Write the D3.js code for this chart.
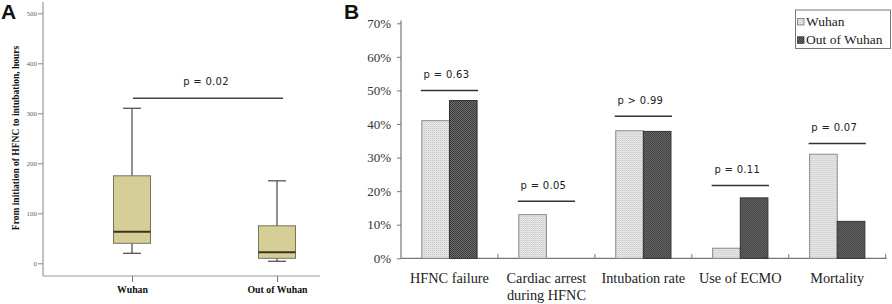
<!DOCTYPE html>
<html>
<head>
<meta charset="utf-8">
<script src="https://cdn.jsdelivr.net/npm/d3@7"></script>
<style>
  html, body { margin: 0; padding: 0; background: #fff; }
  svg { display: block; }
</style>
</head>
<body>
<svg id="chart" width="892" height="304"></svg>
<script>
"use strict";

// ---- panel A data (box plot, hours) ----
const groupsA = ["Wuhan", "Out of Wuhan"];
const whiskerLow = [20, 4];
const q1 = [40, 10];
const medians = [63, 22];
const q3 = [175, 75];
const whiskerHigh = [310, 165];
const ticksA = [0, 100, 200, 300, 400, 500];
const pLabelA = "p = 0.02";
const pLineA = 330;

// ---- panel B data (percent) ----
const categoriesB = ["HFNC failure", "Cardiac arrest|during HFNC", "Intubation rate", "Use of ECMO", "Mortality"];
const seriesB = ["Wuhan", "Out of Wuhan"];
const wuhanPct = [0.41, 0.13, 0.38, 0.03, 0.31];
const outPct = [0.47, 0, 0.378, 0.18, 0.11];
const ticksB = [0, 0.1, 0.2, 0.3, 0.4, 0.5, 0.6, 0.7];
const pLabelsB = ["p = 0.63", "p = 0.05", "p > 0.99", "p = 0.11", "p = 0.07"];
const pLinesB = [0.50, 0.17, 0.423, 0.217, 0.342];

const svg = d3.select("#chart");

// 패턴 정의 (점무늬 / 체크무늬)
const defs = svg.append("defs");
const light = defs.append("pattern").attr("id", "patLight")
  .attr("patternUnits", "userSpaceOnUse").attr("width", 2).attr("height", 2);
light.append("rect").attr("width", 2).attr("height", 2).attr("fill", "#f2f2f2");
light.append("rect").attr("width", 1).attr("height", 1).attr("fill", "#bdbdbd");
light.append("rect").attr("x", 1).attr("y", 1).attr("width", 1).attr("height", 1).attr("fill", "#d4d4d4");

const dark = defs.append("pattern").attr("id", "patDark")
  .attr("patternUnits", "userSpaceOnUse").attr("width", 2).attr("height", 2);
dark.append("rect").attr("width", 2).attr("height", 2).attr("fill", "#7a7a7a");
dark.append("rect").attr("width", 1).attr("height", 1).attr("fill", "#2e2e2e");
dark.append("rect").attr("x", 1).attr("y", 1).attr("width", 1).attr("height", 1).attr("fill", "#2e2e2e");

const serif = "'Liberation Serif', 'Times New Roman', serif";
const pFont = "'DejaVu Sans', Verdana, sans-serif";

// ================= Panel A =================
const yA = d3.scaleLinear().domain([0, 500]).range([263.3, 13.3]);
const xA = d3.scalePoint().domain(groupsA).range([132, 277]);
const boxW = 37;
const capW = 18;

const gA = svg.append("g");

// 축선
gA.append("line").attr("x1", 43).attr("x2", 43).attr("y1", 2).attr("y2", 276)
  .attr("stroke", "#999").attr("stroke-width", 1.2);
gA.append("line").attr("x1", 43).attr("x2", 320).attr("y1", 276).attr("y2", 276)
  .attr("stroke", "#999").attr("stroke-width", 1.2);

const yAxisA = d3.axisLeft(yA).tickValues(ticksA).tickSize(5).tickPadding(1);
gA.append("g").attr("transform", "translate(43,0)").call(yAxisA)
  .call(g => g.select(".domain").remove())
  .call(g => g.selectAll(".tick line").attr("stroke", "#888"))
  .call(g => g.selectAll(".tick text").attr("fill", "#666")
    .style("font-family", serif).style("font-size", "7px"));

const xAxisA = d3.axisBottom(xA).tickSize(6).tickPadding(4);
gA.append("g").attr("transform", "translate(0,276)").call(xAxisA)
  .call(g => g.select(".domain").remove())
  .call(g => g.selectAll(".tick line").attr("stroke", "#777"))
  .call(g => g.selectAll(".tick text").attr("fill", "#111")
    .style("font-family", serif).style("font-size", "9.8px").style("font-weight", "bold"));

gA.append("text")
  .attr("transform", "translate(19,138) rotate(-90)")
  .attr("text-anchor", "middle")
  .style("font-family", serif).style("font-size", "9.5px").style("font-weight", "bold")
  .attr("fill", "#111")
  .text("From initiation of HFNC to intubation, hours");

// 수염 + 박스
groupsA.forEach((g, i) => {
  const cx = xA(g);
  gA.append("line").attr("x1", cx).attr("x2", cx)
    .attr("y1", yA(whiskerHigh[i])).attr("y2", yA(whiskerLow[i]))
    .attr("stroke", "#555").attr("stroke-width", 1.3);
  [whiskerHigh[i], whiskerLow[i]].forEach(v => {
    gA.append("line").attr("x1", cx - capW / 2).attr("x2", cx + capW / 2)
      .attr("y1", yA(v)).attr("y2", yA(v))
      .attr("stroke", "#555").attr("stroke-width", 1.3);
  });
  gA.append("rect")
    .attr("x", cx - boxW / 2).attr("width", boxW)
    .attr("y", yA(q3[i])).attr("height", yA(q1[i]) - yA(q3[i]))
    .attr("fill", "#d5cf97").attr("stroke", "#76745f").attr("stroke-width", 1);
  gA.append("line").attr("x1", cx - boxW / 2).attr("x2", cx + boxW / 2)
    .attr("y1", yA(medians[i])).attr("y2", yA(medians[i]))
    .attr("stroke", "#3b3322").attr("stroke-width", 2);
});

gA.append("line").attr("x1", xA(groupsA[0]) + 1).attr("x2", xA(groupsA[1]) + 6)
  .attr("y1", yA(pLineA)).attr("y2", yA(pLineA))
  .attr("stroke", "#444").attr("stroke-width", 1.5);
gA.append("text").attr("x", 206).attr("y", yA(pLineA) - 13)
  .attr("text-anchor", "middle").attr("fill", "#222")
  .style("font-family", pFont).style("font-size", "10px").style("letter-spacing", "0.3px")
  .text(pLabelA);

svg.append("text").attr("x", 1).attr("y", 18.5)
  .style("font-family", "'Liberation Sans', Arial, sans-serif")
  .style("font-size", "21px").style("font-weight", "bold").attr("fill", "#111")
  .text("A");

// ================= Panel B =================
const x0 = 401, x1 = 885.7;
const yB = d3.scaleLinear().domain([0, 0.7]).range([258.3, 23.3]);
const xB = d3.scaleBand().domain(categoriesB).range([x0, x1])
  .paddingInner(0.43).paddingOuter(0.215);
const xSub = d3.scaleBand().domain(seriesB).range([0, xB.bandwidth()]);

const gB = svg.append("g");

gB.append("line").attr("x1", x0).attr("x2", x0).attr("y1", 20.5).attr("y2", 258.3)
  .attr("stroke", "#777").attr("stroke-width", 1.2);
gB.append("line").attr("x1", x0).attr("x2", x1 + 1).attr("y1", 258.3).attr("y2", 258.3)
  .attr("stroke", "#777").attr("stroke-width", 1.2);

const yAxisB = d3.axisLeft(yB).tickValues(ticksB).tickSize(4).tickPadding(6)
  .tickFormat(d3.format(".0%"));
gB.append("g").attr("transform", `translate(${x0},0)`).call(yAxisB)
  .call(g => g.select(".domain").remove())
  .call(g => g.selectAll(".tick line").attr("stroke", "#777"))
  .call(g => g.selectAll(".tick text").attr("fill", "#333")
    .style("font-family", serif).style("font-size", "13px"));

// 카테고리 경계 눈금
d3.range(1, categoriesB.length + 1).forEach(i => {
  const xx = x0 + i * xB.step();
  gB.append("line").attr("x1", xx).attr("x2", xx).attr("y1", 258.3).attr("y2", 254)
    .attr("stroke", "#777").attr("stroke-width", 1);
});

// 막대
const rows = categoriesB.map((c, i) => ({ cat: c, vals: [wuhanPct[i], outPct[i]] }));
const grp = gB.selectAll("g.cat").data(rows).enter().append("g")
  .attr("class", "cat").attr("transform", d => `translate(${xB(d.cat)},0)`);
grp.selectAll("rect").data(d => d.vals.map((v, j) => ({ s: seriesB[j], v })).filter(o => o.v > 0))
  .enter().append("rect")
  .attr("x", d => xSub(d.s)).attr("width", xSub.bandwidth())
  .attr("y", d => yB(d.v)).attr("height", d => yB(0) - yB(d.v))
  .attr("fill", d => d.s === "Wuhan" ? "url(#patLight)" : "url(#patDark)")
  .attr("stroke", d => d.s === "Wuhan" ? "#8a8a8a" : "#333")
  .attr("stroke-width", 1);

// 카테고리 라벨 (두 줄 가능)
categoriesB.forEach(c => {
  const t = gB.append("text").attr("x", xB(c) + xB.bandwidth() / 2).attr("y", 283)
    .attr("text-anchor", "middle").attr("fill", "#222")
    .style("font-family", serif).style("font-size", "14.3px");
  c.split("|").forEach((s, k) => {
    t.append("tspan").attr("x", xB(c) + xB.bandwidth() / 2).attr("dy", k === 0 ? 0 : 16.5).text(s);
  });
});

// p 값 표시
categoriesB.forEach((c, i) => {
  const ly = yB(pLinesB[i]);
  gB.append("line").attr("x1", xB(c) - 1).attr("x2", xB(c) + xB.bandwidth() + 1)
    .attr("y1", ly).attr("y2", ly).attr("stroke", "#333").attr("stroke-width", 1.6);
  gB.append("text").attr("x", xB(c) + xB.bandwidth() / 2 - 3).attr("y", ly - 12)
    .attr("text-anchor", "middle").attr("fill", "#222")
    .style("font-family", pFont).style("font-size", "10px").style("letter-spacing", "0.3px")
    .text(pLabelsB[i]);
});

// 범례
const lg = gB.append("g");
lg.append("rect").attr("x", 795.5).attr("y", 10).attr("width", 95).attr("height", 38.5)
  .attr("fill", "#fff").attr("stroke", "#777").attr("stroke-width", 1);
seriesB.forEach((s, j) => {
  const yy = 18.5 + j * 18.3;
  lg.append("rect").attr("x", 797.5).attr("y", yy).attr("width", 6.5).attr("height", 6.5)
    .attr("fill", j === 0 ? "url(#patLight)" : "url(#patDark)")
    .attr("stroke", j === 0 ? "#777" : "#333").attr("stroke-width", 0.8);
  lg.append("text").attr("x", 806).attr("y", yy + 7)
    .attr("fill", "#222").style("font-family", serif).style("font-size", "13.5px")
    .text(s);
});

svg.append("text").attr("x", 344).attr("y", 18.5)
  .style("font-family", "'Liberation Sans', Arial, sans-serif")
  .style("font-size", "21px").style("font-weight", "bold").attr("fill", "#111")
  .text("B");
</script>
</body>
</html>
